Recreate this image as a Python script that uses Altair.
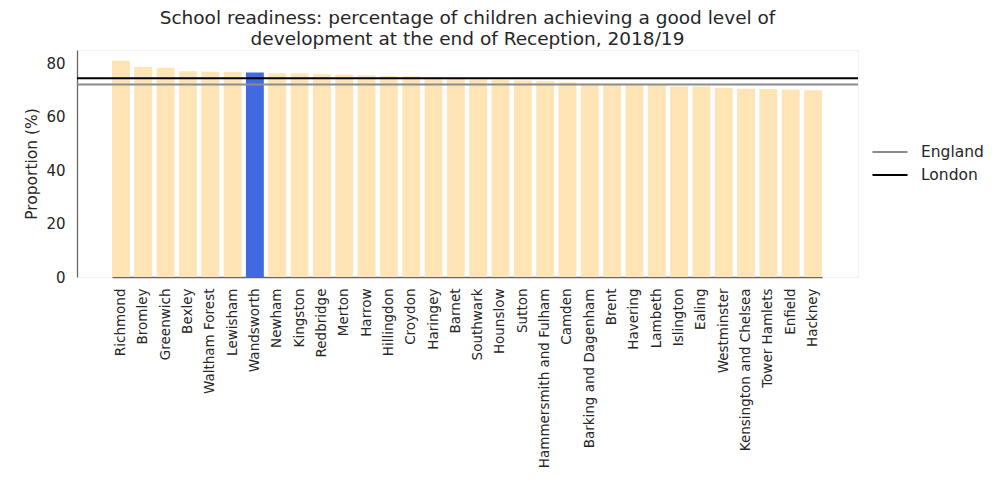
import altair as alt
import pandas as pd

boroughs = ["Richmond", "Bromley", "Greenwich", "Bexley", "Waltham Forest", "Lewisham",
            "Wandsworth", "Newham", "Kingston", "Redbridge", "Merton", "Harrow",
            "Hillingdon", "Croydon", "Haringey", "Barnet", "Southwark", "Hounslow",
            "Sutton", "Hammersmith and Fulham", "Camden", "Barking and Dagenham",
            "Brent", "Havering", "Lambeth", "Islington", "Ealing", "Westminster",
            "Kensington and Chelsea", "Tower Hamlets", "Enfield", "Hackney"]
values = [81.0, 78.6, 78.4, 77.0, 76.9, 76.8, 76.6, 76.3, 76.2, 75.9, 75.8, 75.5,
          75.3, 75.2, 74.9, 74.6, 74.0, 73.9, 73.6, 73.3, 72.9, 72.5, 72.3, 72.1,
          71.9, 71.3, 71.3, 70.9, 70.5, 70.4, 70.2, 69.9]
highlight = "Wandsworth"

ref_names = ["England", "London"]
ref_values = [72.1, 74.4]
ref_colors = ["#8c8c8c", "#000000"]

df = pd.DataFrame({"Borough": boroughs, "Value": values})
ref = pd.DataFrame({"Area": ref_names, "Value": ref_values})

FONT = "DejaVu Sans"

bars = alt.Chart(df).mark_bar().encode(
    x=alt.X("Borough:N", sort=boroughs,
            scale=alt.Scale(paddingInner=0.2, paddingOuter=0, range=[35, 745]),
            axis=alt.Axis(title=None, labelAngle=270, labelAlign="right",
                          labelBaseline="middle", ticks=False, labelPadding=11,
                          labelFontSize=13.5, labelColor="#262626", labelFont=FONT,
                          domainColor="#666666", domainWidth=1.3)),
    y=alt.Y("Value:Q", scale=alt.Scale(domain=[0, 85], nice=False),
            axis=alt.Axis(title="Proportion (%)", values=[0, 20, 40, 60, 80],
                          ticks=False, labelPadding=12, labelFontSize=15,
                          labelColor="#262626", labelFont=FONT, grid=False,
                          titleFontSize=15.5, titleFont=FONT, titleFontWeight="normal",
                          titleColor="#262626", titlePadding=6,
                          domainColor="#666666", domainWidth=1.3)),
    color=alt.condition(alt.datum.Borough == highlight,
                        alt.value("#4169E1"), alt.value("#FFE4B5")),
)

rules = alt.Chart(ref).mark_rule(strokeWidth=2).encode(
    y="Value:Q",
    color=alt.Color("Area:N", scale=alt.Scale(domain=ref_names, range=ref_colors),
                    legend=alt.Legend(title=None, orient="none", legendX=802,
                                      legendY=91, symbolType="M-1.75,0H1.75",
                                      symbolStrokeWidth=2, symbolSize=400,
                                      labelFontSize=15.5, labelFont=FONT,
                                      labelColor="#262626", rowPadding=3,
                                      labelOffset=20)),
)

chart = alt.layer(bars, rules).properties(
    width=781, height=227,
    title=alt.Title(["School readiness: percentage of children achieving a good level of",
                     "development at the end of Reception, 2018/19"],
                    fontSize=18.5, font=FONT, fontWeight="normal", color="#262626",
                    anchor="middle", offset=2, lineHeight=21),
    autosize=alt.AutoSizeParams(type="none"),
    padding={"left": 69, "top": 42, "right": 130, "bottom": 205},
).configure_view(stroke="#f2f2f2")

chart.save("out.html", embed_options={"renderer": "svg", "actions": False})
